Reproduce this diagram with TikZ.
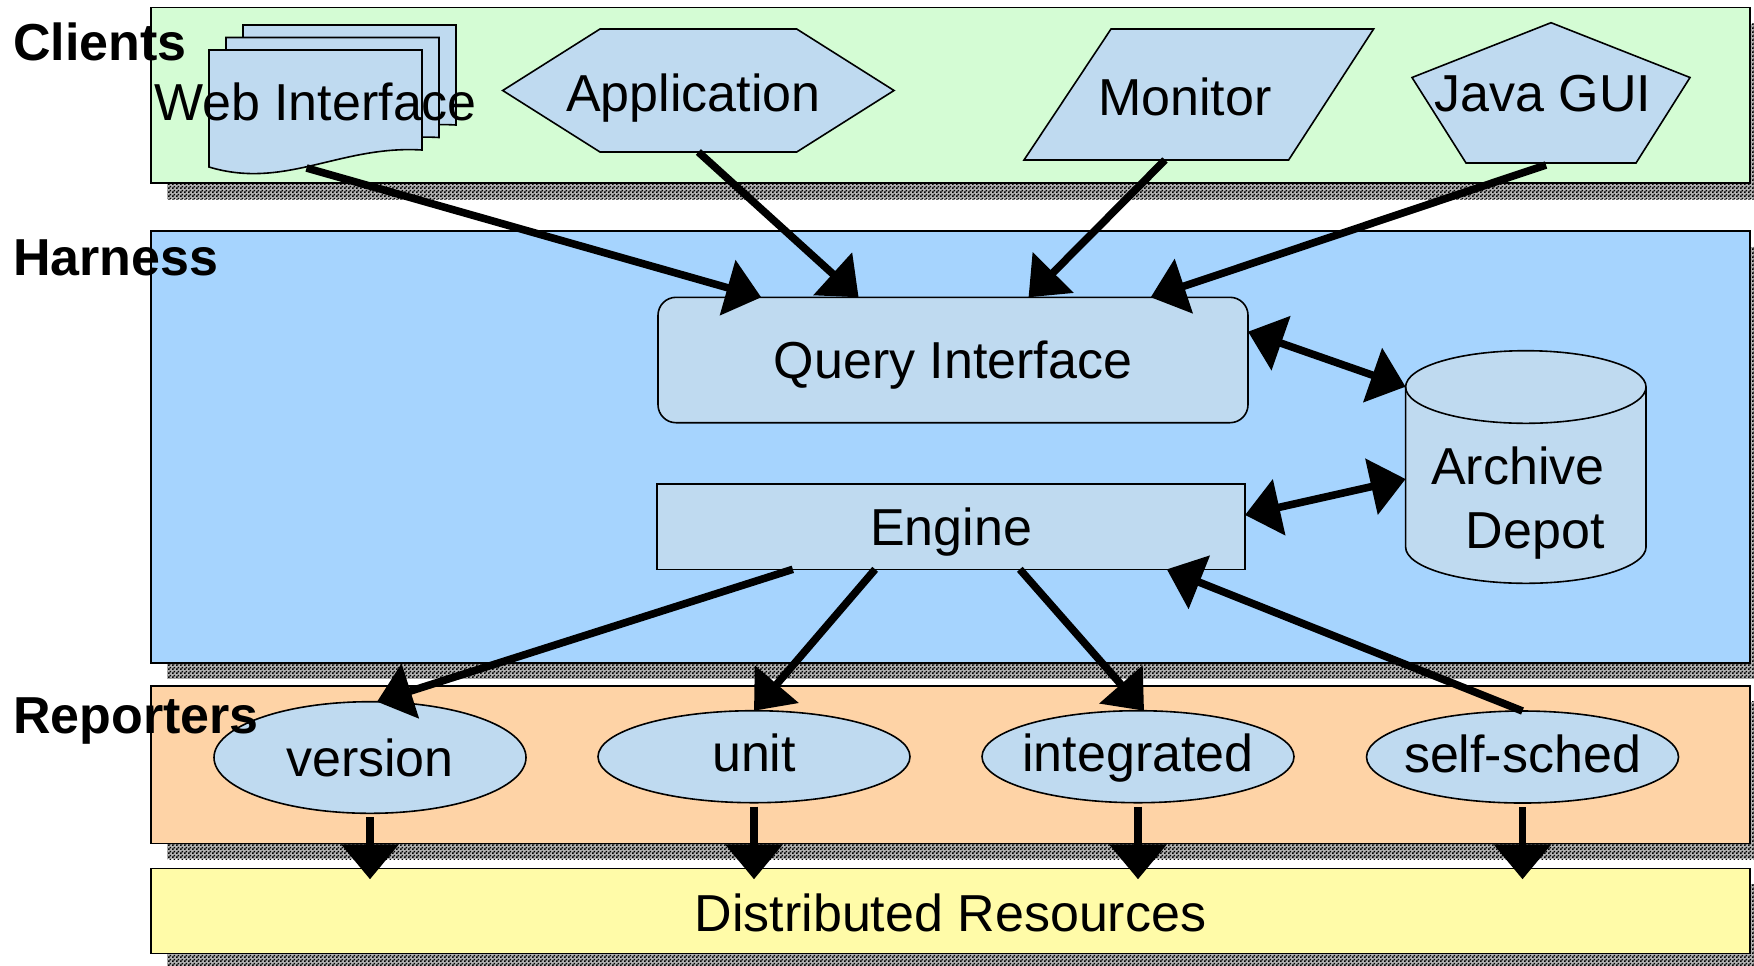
\documentclass[tikz,border=0pt]{standalone}
\usepackage{fontspec}
\setmainfont{Liberation Sans}
\usetikzlibrary{arrows.meta,calc,shapes.geometric,patterns}

% fine black/white checkerboard used for the drop shadows of the tiers
\pgfdeclarepatternformonly{finechecker}{\pgfpointorigin}{\pgfqpoint{2pt}{2pt}}{\pgfqpoint{2pt}{2pt}}{%
  \pgfpathrectangle{\pgfpointorigin}{\pgfqpoint{1pt}{1pt}}%
  \pgfpathrectangle{\pgfqpoint{1pt}{1pt}}{\pgfqpoint{1pt}{1pt}}%
  \pgfusepath{fill}}

\definecolor{clientbg}{RGB}{212,252,212}
\definecolor{harnessbg}{RGB}{166,212,254}
\definecolor{reporterbg}{RGB}{254,211,166}
\definecolor{resbg}{RGB}{255,251,168}
\definecolor{partblue}{RGB}{191,218,240}

\begin{document}
\begin{tikzpicture}[x=0.5pt,y=-0.5pt,
  every node/.style={font=\fontsize{26pt}{32pt}\selectfont, inner sep=0pt, outer sep=0pt},
  band/.style={draw=black, line width=0.8pt},
  shadowbox/.style={fill=black!30, postaction={pattern=finechecker, pattern color=black}},
  part/.style={draw=black, line width=0.8pt, fill=partblue},
  holder/.style={rectangle, text height=19pt, text depth=0pt},
  box/.style={part, rectangle, text height=19pt, text depth=0pt},
  rep/.style={part, ellipse, minimum width=156pt, minimum height=46pt,
    inner xsep=-6pt, text height=15pt, text depth=0pt},
  tierlabel/.style={font=\bfseries\fontsize{26pt}{32pt}\selectfont, anchor=base west},
  arr/.style={-{Triangle[length=17.5pt,width=28pt]}, line width=3.8pt},
  darr/.style={{Triangle[length=17.5pt,width=28pt]}-{Triangle[length=17.5pt,width=28pt]}, line width=3.8pt}
]
\useasboundingbox (0,0) rectangle (1754,965);
\clip (0,0) rectangle (1754,965);
\fill[white] (0,0) rectangle (1754,965);

% drop shadows of the four tiers
\foreach \t/\b in {7.5/183, 230.7/662.7, 685.7/843.3, 868.3/953.3}
  \path[shadowbox] (167,\t+16) rectangle (1766,\b+16);

% tiers
\draw[band, fill=clientbg]   (151,7.5)   rectangle (1750,183);
\draw[band, fill=harnessbg]  (151,230.7) rectangle (1750,662.7);
\draw[band, fill=reporterbg] (151,685.7) rectangle (1750,843.3);

% stacked pages of the web interface
\foreach \dx/\dy in {34/-25, 17/-12.5, 0/0}
  \filldraw[part] (209+\dx,50+\dy) -- (422+\dx,50+\dy) -- (422+\dx,150+\dy)
    .. controls (340+\dx,145+\dy) and (285+\dx,190+\dy) .. (209+\dx,167+\dy) -- cycle;

% application hexagon
\filldraw[part] (502.7,90.5) -- (600,29) -- (796.7,29) -- (894,90.5)
  -- (796.7,152) -- (600,152) -- cycle;
% monitor parallelogram
\filldraw[part] (1111,29) -- (1373.6,29) -- (1288.6,160) -- (1024,160) -- cycle;
% java gui pentagon
\filldraw[part] (1551,22.7) -- (1690,77.5) -- (1636,163) -- (1466,163)
  -- (1412,77.5) -- cycle;
% archive depot cylinder
\filldraw[part] (1405.6,387) -- (1405.6,547)
  arc[start angle=180, end angle=360, x radius=60.1pt, y radius=18.15pt]
  -- (1646,387)
  arc[start angle=0, end angle=180, x radius=60.1pt, y radius=18.15pt] -- cycle;
\draw[line width=0.8pt] (1405.6,387)
  arc[start angle=180, end angle=360, x radius=60.1pt, y radius=18.15pt];

% clients
\node[holder, minimum width=106.5pt, minimum height=58.5pt, text height=11.5pt]
  (web) at (315.5,108.5) {Web Interface};
\node[holder, minimum width=195.65pt, minimum height=61.5pt, text height=21pt]
  (app) at (698.35,90.5) {\hspace*{-5pt}Application};
\node[holder, minimum width=174.8pt, minimum height=65.5pt, text height=20.5pt]
  (mon) at (1198.8,94.5) {\hspace*{-14pt}Monitor};
\node[holder, minimum width=139pt, minimum height=70.15pt, text height=19.1pt]
  (jgui) at (1551,92.85) {\hspace*{-8pt}Java GUI};

% harness
\node[box, rounded corners=9pt, minimum width=295pt, minimum height=62.7pt, text height=18pt]
  (qi) at (953,360) {Query Interface};
\node[box, minimum width=294pt, minimum height=42.65pt]
  (eng) at (951,526.65) {Engine};
% text block of the depot, set a little left of the cylinder axis
\node[rectangle, align=right, minimum width=120.2pt, minimum height=80pt]
  (arch) at (1517.8,503) {Archive\\Depot};

% reporters
\node[rep, minimum height=55.8pt, text height=19pt] (ver) at (370,757.5) {version};
\node[rep] (unit)  at (754,756.7)  {unit};
\node[rep] (integ) at (1138,756.7) {integrated};
\node[rep] (sched) at (1522.5,757) {self-sched};

% resources tier
\node[band, fill=resbg, rectangle, minimum width=799.5pt, minimum height=42.5pt,
  text height=21pt, text depth=0pt] (res) at (950.5,910.8) {Distributed Resources};

% clients to query interface
\draw[arr] ($(web.south)+(-9,1)$) -- ($(qi.north west)!0.175!(qi.north east)$);
\draw[arr] (app.south) -- ($(qi.north west)!0.34!(qi.north east)$);
\draw[arr] ($(mon.south west)+(141,0)$) -- ($(qi.north west)!0.628!(qi.north east)$);
\draw[arr] ($(jgui.south)+(-5,2)$) -- ($(qi.north west)!0.835!(qi.north east)$);

% harness and archive
\draw[darr] ($(qi.north east)!0.274!(qi.south east)$) -- ($(arch.north west)+(8,-36.3)$);
\draw[darr] ($(eng.north east)!0.363!(eng.south east)$) -- ($(arch.north west)+(8,56)$);

% engine and reporters
\draw[arr] ($(eng.south west)!0.231!(eng.south east)$) -- ($(ver.north)+(7,0)$);
\draw[arr] ($(eng.south west)!0.371!(eng.south east)$) -- (unit.north);
\draw[arr] ($(eng.south west)!0.617!(eng.south east)$) -- ($(integ.north)+(6,0)$);
\draw[arr] (sched.north) -- ($(eng.south west)!0.867!(eng.south east)$);

% reporters to resources
\foreach \n in {ver,unit,integ,sched}
  \draw[arr] ($(\n.south)+(0,4)$) -- ($(\n.south |- res.north)+(0,11)$);

% tier labels
\node[tierlabel] (lclients)   at (13,60)  {Clients};
\node[tierlabel] (lharness)   at (13,275) {Harness};
\node[tierlabel] (lreporters) at (13,733) {Reporters};
\end{tikzpicture}
\end{document}
